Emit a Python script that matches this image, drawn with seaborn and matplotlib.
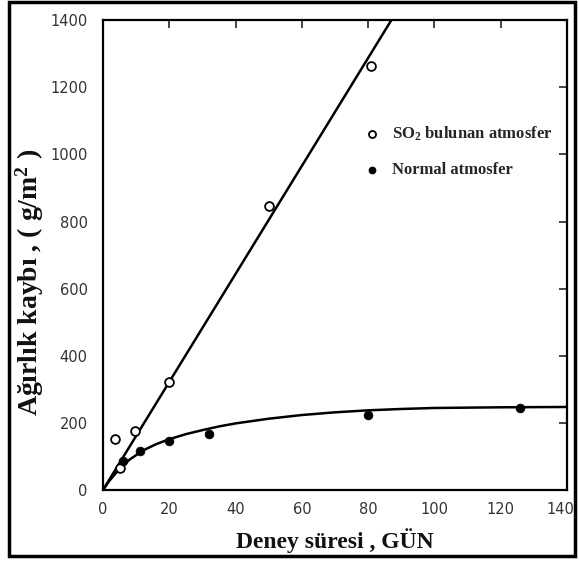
import matplotlib
matplotlib.use("Agg")
import matplotlib.pyplot as plt
import seaborn as sns
import pandas as pd
from matplotlib.patches import Rectangle
from matplotlib.transforms import ScaledTranslation

# Data
so2_days = [3.5, 5, 9.5, 20, 50, 81]
so2_loss = [152, 65, 175, 320, 845, 1265]
normal_days = [6, 11, 20, 32, 80, 126]
normal_loss = [85, 115, 145, 165, 223, 243]
so2_line_x = [0, 87]
so2_line_y = [0, 1400]
normal_curve_x = [0, 2, 5, 8, 12, 16, 20, 25, 30, 35, 40, 50, 60, 70, 80, 90, 100, 120, 140]
normal_curve_y = [0, 28, 63, 90, 117, 136, 151, 166, 178, 189, 198, 212, 223, 231, 237, 241, 244, 246, 247]
x_ticks = [0, 20, 40, 60, 80, 100, 120, 140]
y_ticks = [0, 200, 400, 600, 800, 1000, 1200, 1400]

sns.set_theme(style="white")
plt.rcParams["font.family"] = ["DejaVu Sans"]
plt.rcParams["mathtext.fontset"] = "custom"
plt.rcParams["mathtext.rm"] = "Liberation Serif:bold"
plt.rcParams["mathtext.it"] = "Liberation Serif:bold:italic"
plt.rcParams["mathtext.bf"] = "Liberation Serif:bold"

fig = plt.figure(figsize=(5.79, 5.63), dpi=100)
ax = fig.add_axes([0.178, 0.130, 0.801, 0.834])

df_so2 = pd.DataFrame({"x": so2_days, "y": so2_loss})
df_norm = pd.DataFrame({"x": normal_days, "y": normal_loss})

sns.lineplot(x=so2_line_x, y=so2_line_y, ax=ax, color="black", lw=1.8, zorder=2)
sns.lineplot(x=normal_curve_x, y=normal_curve_y, ax=ax, color="black", lw=1.8, zorder=2)
sns.scatterplot(data=df_so2, x="x", y="y", ax=ax, marker="o", s=40,
                facecolor="white", edgecolor="black", linewidth=1.3, zorder=3,
                label="SO$_2$ bulunan atmosfer")
sns.scatterplot(data=df_norm, x="x", y="y", ax=ax, marker="o", s=40,
                color="black", edgecolor="black", zorder=3,
                label="Normal atmosfer")

ax.set_xlim(0, 140)
ax.set_ylim(0, 1400)
ax.set_xticks(x_ticks)
ax.set_yticks(y_ticks)
ax.tick_params(direction="in", length=6, width=1.2, top=True, right=True,
               labelsize=10.5, labelcolor="#333333")
ax.tick_params(axis="y", pad=11)
ax.tick_params(axis="x", pad=9)
for s in ax.spines.values():
    s.set_linewidth(1.6)
    s.set_color("black")

# keep the last x tick label inside the figure
last = ax.get_xticklabels()[-1]
last.set_transform(last.get_transform() + ScaledTranslation(-5 / 72, 0, fig.dpi_scale_trans))

ax.set_xlabel("Deney süresi , GÜN", family="Liberation Serif", fontweight="bold",
              fontsize=17, color="#111111", labelpad=8)
ax.set_ylabel("Ağırlık kaybı , ( g/m$^2$ )", family="Liberation Serif", fontweight="bold",
              fontsize=20, color="#111111")
ax.yaxis.set_label_coords(-0.122, 0.441)

leg = ax.legend(loc="upper left", bbox_to_anchor=(0.512, 0.81), frameon=False,
                prop={"family": "Liberation Serif", "weight": "bold", "size": 12},
                handletextpad=0.2, labelspacing=1.15, markerscale=0.8)

fig.add_artist(Rectangle((0.015, 0.012), 0.978, 0.984, transform=fig.transFigure,
                         fill=False, edgecolor="black", linewidth=2.5))

fig.savefig("out.png", dpi=100)
